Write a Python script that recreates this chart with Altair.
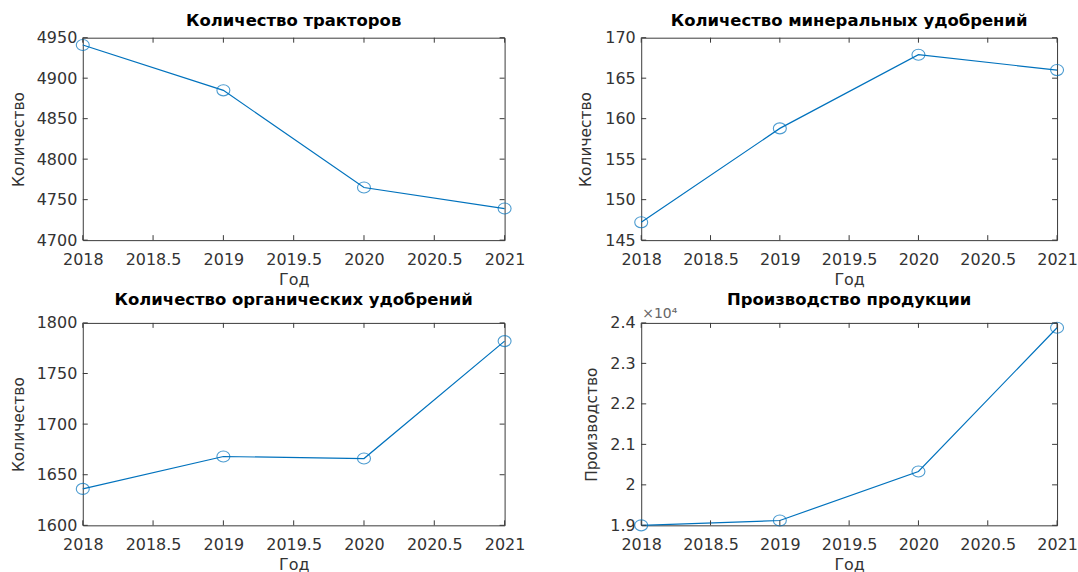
import altair as alt
import pandas as pd

# Yearly values for the four indicators
years = [2018, 2019, 2020, 2021]
tractors = [4941, 4885, 4765, 4739]
mineral = [147.2, 158.8, 167.9, 166.0]
organic = [1636, 1668, 1666, 1782]
production = [19000, 19120, 20330, 23880]

# Axis tick values
year_ticks = [2018, 2018.5, 2019, 2019.5, 2020, 2020.5, 2021]
tractor_ticks = [4700, 4750, 4800, 4850, 4900, 4950]
mineral_ticks = [145, 150, 155, 160, 165, 170]
organic_ticks = [1600, 1650, 1700, 1750, 1800]
production_ticks = [19000, 20000, 21000, 22000, 23000, 24000]

LINE = "#0072BD"
INK = "#333333"
BOX = "#3a3a3a"
FONT = "DejaVu Sans"
HEIGHT = 203
TICK = 5
# open ellipse marker (slightly wider than tall)
ELLIPSE = "M -1 0 A 1 0.85 0 1 1 1 0 A 1 0.85 0 1 1 -1 0 Z"


def panel(values, title, y_title, y_ticks, width, title_x, title_offset,
          label_expr="'' + datum.value", exponent=None):
    df = pd.DataFrame({"year": years, "value": values})
    x_scale = alt.Scale(domain=[year_ticks[0], year_ticks[-1]], nice=False, zero=False)
    y_scale = alt.Scale(domain=[y_ticks[0], y_ticks[-1]], nice=False, zero=False)

    x_axis = alt.Axis(values=year_ticks, labelExpr="'' + datum.value", title="Год",
                      labelPadding=11, titlePadding=4, titleFontSize=16,
                      labelFlush=False, labelOverlap=False)
    y_axis = alt.Axis(values=y_ticks, labelExpr=label_expr, title=y_title, labelPadding=6,
                      labelFlush=False, labelOverlap=False,
                      titleX=title_x, titleY=HEIGHT / 2, titleBaseline="middle")

    X = alt.X("year:Q", scale=x_scale, axis=x_axis)
    Y = alt.Y("value:Q", scale=y_scale, axis=y_axis)

    base = alt.Chart(df)
    line = base.mark_line(color=LINE, strokeWidth=1.2).encode(x=X, y=Y)
    points = base.mark_point(shape=ELLIPSE, filled=False, size=169,
                             stroke=LINE, strokeWidth=1.1).encode(x=X, y=Y)

    # inward ticks on all four sides of the box
    xt = alt.Chart(pd.DataFrame({"year": year_ticks}))
    yt = alt.Chart(pd.DataFrame({"value": y_ticks}))
    ticks = [
        xt.mark_rule(color=BOX, strokeWidth=1).encode(x=X, y=alt.value(HEIGHT), y2=alt.value(HEIGHT - TICK)),
        xt.mark_rule(color=BOX, strokeWidth=1).encode(x=X, y=alt.value(0), y2=alt.value(TICK)),
        yt.mark_rule(color=BOX, strokeWidth=1).encode(y=Y, x=alt.value(0), x2=alt.value(TICK)),
        yt.mark_rule(color=BOX, strokeWidth=1).encode(y=Y, x=alt.value(width - TICK), x2=alt.value(width)),
    ]

    layers = [line, points] + ticks
    if exponent:
        layers.append(
            alt.Chart(pd.DataFrame({"label": [exponent]}))
            .mark_text(align="left", baseline="alphabetic", font=FONT, fontSize=14, color="#666666")
            .encode(text="label:N", x=alt.value(1), y=alt.value(-5))
        )

    return alt.layer(*layers).properties(
        width=width,
        height=HEIGHT,
        title=alt.TitleParams(text=title, font=FONT, fontSize=16.5, fontWeight="bold",
                              color="black", offset=title_offset, baseline="alphabetic",
                              anchor="middle"),
    )


p1 = panel(tractors, "Количество тракторов", "Количество", tractor_ticks, 423, -64, -13)
p2 = panel(mineral, "Количество минеральных удобрений", "Количество", mineral_ticks, 417, -56, -13)
p3 = panel(organic, "Количество органических удобрений", "Количество", organic_ticks, 423, -64, -7)
p4 = panel(production, "Производство продукции", "Производство", production_ticks, 417, -50, -15,
           label_expr="'' + datum.value / 10000", exponent="×10⁴")

chart = (
    alt.concat(p1, p2, p3, p4, columns=2, spacing={"row": 4, "column": 52})
    .properties(padding={"left": 11, "top": 12, "right": 0, "bottom": 0}, background="white")
    .configure_axis(domain=False, ticks=False, tickSize=0, grid=False,
                    labelFont=FONT, labelFontSize=16, labelColor=INK,
                    titleFont=FONT, titleFontSize=15.5, titleFontWeight="normal", titleColor=INK)
    .configure_view(stroke=BOX, strokeWidth=1)
)

chart.save("out.html", embed_options={"renderer": "svg", "actions": False})
